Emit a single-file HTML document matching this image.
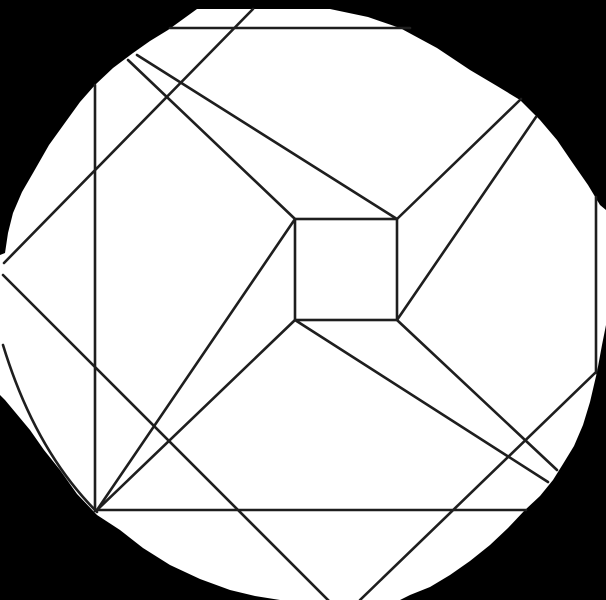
<!DOCTYPE html>
<html><head><meta charset="utf-8"><style>html,body{margin:0;padding:0;background:#000}svg{display:block}</style></head>
<body>
<svg width="606" height="600" viewBox="0 0 606 600" xmlns="http://www.w3.org/2000/svg">
<rect x="0" y="0" width="606" height="600" fill="#000"/>
<polygon fill="#fff" points="197,9 330,9 368,17 400,28 437,48 470,70 497,86 520,100 540,120 557,140 572,162 588,185 600,205 606,210 606,325 602,345 597,372 590,402 583,425 574,446 563,464 553,480 540,496 525,510 508,528 490,545 470,561 450,575 430,587 410,595 400,600 280,600 255,596 230,590 200,579 170,565 143,548 120,530 97,515 77,494 60,470 44,450 30,430 15,412 5,400 0,395 0,255 5,253 8,233 13,213 22,192 33,173 49,145 67,120 80,102 95,85 113,68 133,53 150,41 168,30"/>
<g stroke="#1e1e1e" stroke-width="2.6" fill="none" stroke-linecap="round">
<rect x="295" y="219" width="102" height="101"/>
<line x1="170" y1="28" x2="410" y2="28"/>
<line x1="95" y1="85" x2="95" y2="511"/>
<line x1="97" y1="510" x2="526" y2="510"/>
<line x1="596" y1="197" x2="596" y2="373"/>
<line x1="253" y1="9" x2="4" y2="263"/>
<line x1="128" y1="60" x2="295" y2="219"/>
<line x1="137" y1="55" x2="397" y2="219"/>
<line x1="397" y1="219" x2="521" y2="99"/>
<line x1="397" y1="320" x2="536" y2="117"/>
<line x1="295" y1="219" x2="97" y2="510"/>
<line x1="295" y1="320" x2="97" y2="510"/>
<line x1="295" y1="320" x2="548" y2="482"/>
<line x1="397" y1="320" x2="557" y2="470"/>
<line x1="595" y1="373" x2="360" y2="600"/>
<line x1="3" y1="275" x2="330" y2="602"/>
<path d="M3,345 Q35,450 97,512"/>
</g>
</svg>
</body></html>
